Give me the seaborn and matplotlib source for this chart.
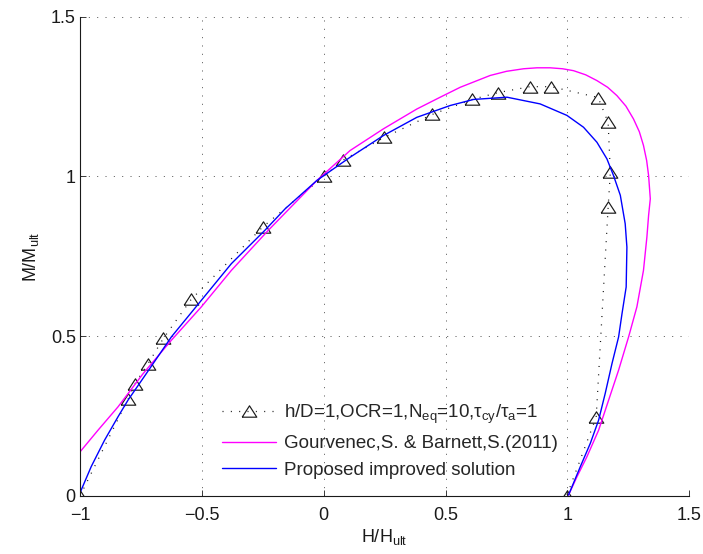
import matplotlib
matplotlib.use('Agg')
import matplotlib.pyplot as plt
import seaborn as sns

# ---- data ----
H_exp = [-1.0, -0.802, -0.774, -0.722, -0.658, -0.544, -0.25, 0.0, 0.081, 0.248,
         0.445, 0.609, 0.716, 0.847, 0.933, 1.126, 1.167, 1.176, 1.167, 1.118, 0.997]
M_exp = [0.0, 0.305, 0.352, 0.4125, 0.493, 0.615, 0.842, 1.0, 1.052, 1.122,
         1.194, 1.241, 1.2625, 1.281, 1.281, 1.247, 1.169, 1.0125, 0.903, 0.247, 0.0]

H_gb = [-1.0, -0.926, -0.844, -0.741, -0.625, -0.502, -0.379, -0.228, -0.145, -0.028,
        0.108, 0.245, 0.382, 0.478, 0.56, 0.683, 0.75, 0.82, 0.875, 0.929, 0.98, 1.025,
        1.075, 1.121, 1.165, 1.203, 1.240, 1.271, 1.295, 1.312, 1.325, 1.333, 1.340,
        1.333, 1.326, 1.312, 1.285, 1.251, 1.210, 1.169, 1.128, 1.080, 1.039, 1.0045]
M_gb = [0.138, 0.206, 0.279, 0.383, 0.4875, 0.592, 0.706, 0.831, 0.896, 0.9875,
        1.081, 1.149, 1.211, 1.248, 1.279, 1.316, 1.329, 1.337, 1.340, 1.340, 1.337, 1.331,
        1.318, 1.300, 1.279, 1.253, 1.220, 1.180, 1.140, 1.097, 1.050, 1.003, 0.930,
        0.878, 0.810, 0.706, 0.592, 0.498, 0.394, 0.300, 0.206, 0.123, 0.060, 0.003]

H_prop = [-1.001, -0.954, -0.899, -0.844, -0.803, -0.728, -0.625, -0.502, -0.379, -0.242,
          -0.158, -0.028, 0.108, 0.245, 0.382, 0.519, 0.615, 0.752, 0.888, 0.998, 1.066,
          1.121, 1.162, 1.189, 1.217, 1.237, 1.244, 1.241, 1.224, 1.210, 1.183, 1.155,
          1.128, 1.094, 1.053, 1.0045]
M_prop = [0.008, 0.092, 0.175, 0.248, 0.300, 0.383, 0.498, 0.6125, 0.727, 0.831,
          0.899, 0.9875, 1.060, 1.128, 1.185, 1.222, 1.241, 1.248, 1.227, 1.191, 1.154,
          1.107, 1.055, 1.003, 0.941, 0.852, 0.779, 0.654, 0.571, 0.498, 0.415, 0.321,
          0.2375, 0.165, 0.092, 0.003]

x_ticks = [-1, -0.5, 0, 0.5, 1, 1.5]
x_tick_labels = ['\u22121', '\u22120.5', '0', '0.5', '1', '1.5']
y_ticks = [0, 0.5, 1, 1.5]
y_tick_labels = ['0', '0.5', '1', '1.5']

series_labels = [
    'h/D=1,OCR=1,N$_{\\mathrm{eq}}$=10,\u03c4$_{\\mathrm{cy}}$/\u03c4$_{\\mathrm{a}}$=1',
    'Gourvenec,S. & Barnett,S.(2011)',
    'Proposed improved solution',
]
x_label = 'H/H$_{\\mathrm{ult}}$'
y_label = 'M/M$_{\\mathrm{ult}}$'

# ---- style ----
sns.set_theme(style='white')
plt.rcParams['font.family'] = ['Liberation Sans', 'DejaVu Sans']
plt.rcParams['mathtext.fontset'] = 'custom'
plt.rcParams['mathtext.rm'] = 'Liberation Sans'
plt.rcParams['mathtext.it'] = 'Liberation Sans:italic'
plt.rcParams['mathtext.bf'] = 'Liberation Sans:bold'
plt.rcParams['lines.scale_dashes'] = False

dots = (0, (0.75, 5.25))
tri = [(-1, -0.78), (1, -0.78), (0, 0.78), (-1, -0.78)]

fig = plt.figure(figsize=(7.03, 5.54), dpi=100)
ax = fig.add_axes([0.1138, 0.1047, 0.8667, 0.8652])

sns.lineplot(x=H_exp, y=M_exp, sort=False, estimator=None, ax=ax, color='k',
             marker=tri, markersize=10.5, markerfacecolor='none',
             markeredgecolor='k', markeredgewidth=0.85,
             linestyle=dots, linewidth=0.9)
sns.lineplot(x=H_gb, y=M_gb, sort=False, estimator=None, ax=ax,
             color='#ff00ff', linewidth=1.0)
sns.lineplot(x=H_prop, y=M_prop, sort=False, estimator=None, ax=ax,
             color='#0000ff', linewidth=1.0)

ax.set_xlim(-1, 1.5)
ax.set_ylim(0, 1.5)
ax.set_xticks(x_ticks, x_tick_labels)
ax.set_yticks(y_ticks, y_tick_labels)
ax.tick_params(direction='in', length=4.5, width=0.6, colors='k', labelsize=13,
               bottom=True, left=True, top=False, right=False)
ax.tick_params(axis='x', pad=8)
ax.tick_params(axis='y', pad=3)
ax.grid(True, linestyle=dots, color='0.25', linewidth=0.6)
for s in ['top', 'right']:
    ax.spines[s].set_visible(False)
for s in ['left', 'bottom']:
    ax.spines[s].set_color('k')
    ax.spines[s].set_linewidth(0.8)

ax.set_xlabel(x_label, fontsize=13, labelpad=2, color='k')
ax.set_ylabel(y_label, fontsize=13, labelpad=7, color='k')

handles = ax.lines[:3]
ax.legend(handles, series_labels, frameon=False, loc='lower left',
          bbox_to_anchor=(0.233, 0.036), borderpad=0, borderaxespad=0,
          handlelength=2.9, handletextpad=0.42, labelspacing=0.5,
          fontsize=13.5, numpoints=1)

fig.savefig('out.png', dpi=100)
